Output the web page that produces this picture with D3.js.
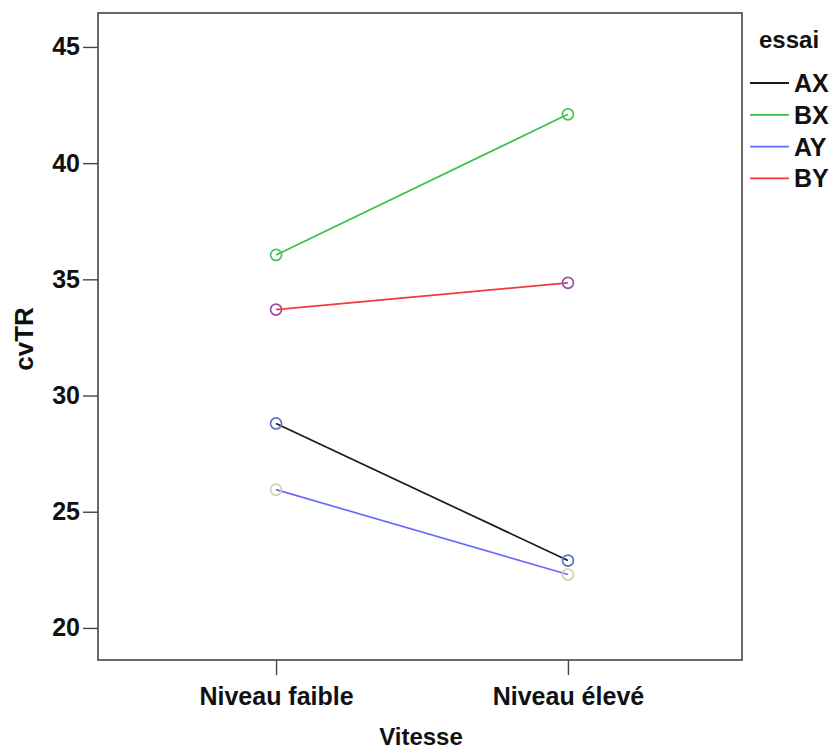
<!DOCTYPE html>
<html><head><meta charset="utf-8">
<script src="https://cdn.jsdelivr.net/npm/d3@7"></script>
<style>body{margin:0;background:#fff}svg{display:block}text{font-family:"Liberation Sans",Arial,sans-serif;font-weight:bold;fill:#111}</style>
</head><body>
<svg id="c" width="832" height="749"></svg>
<script>
const categories = ["Niveau faible", "Niveau élevé"];
const seriesNames = ["AX", "BX", "AY", "BY"];
const AX = [28.8, 22.9];
const BX = [36.05, 42.1];
const AY = [25.95, 22.3];
const BY = [33.7, 34.85];
const yTicks = [20, 25, 30, 35, 40, 45];
const lineColors = ["#1a1a1a", "#3cbf4a", "#6a6aff", "#f03c3c"];
const markerColors = ["#5b74c4", "#4cc25a", "#d4d0a4", "#9a4fa8"];

const series = [AX, BX, AY, BY];
const svg = d3.select("#c");
const L = 98, R = 742, T = 13, B = 660;
const x = d3.scalePoint().domain(categories).range([L, 746]).padding(0.61);
const y = d3.scaleLinear().domain([18.62, 46.46]).range([B, T]);

svg.append("rect").attr("x", L).attr("y", T).attr("width", R - L).attr("height", B - T)
  .attr("fill", "none").attr("stroke", "#444").attr("stroke-width", 1.6);

const ya = svg.append("g").attr("transform", `translate(${L},0)`)
  .call(d3.axisLeft(y).tickValues(yTicks).tickSize(15).tickPadding(3).tickFormat(d3.format("d")));
ya.select(".domain").remove();
ya.selectAll("line").attr("stroke", "#444").attr("stroke-width", 1.4);
ya.selectAll("text").style("font-size", "25px").attr("fill", "#111");

const xa = svg.append("g").attr("transform", `translate(0,${B})`)
  .call(d3.axisBottom(x).tickSize(15).tickPadding(12));
xa.select(".domain").remove();
xa.selectAll("line").attr("stroke", "#444").attr("stroke-width", 1.4);
xa.selectAll("text").style("font-size", "25px").attr("fill", "#111");

svg.append("text").attr("x", 421).attr("y", 745).attr("text-anchor", "middle")
  .style("font-size", "24px").text("Vitesse");
svg.append("text").attr("transform", "translate(33,339) rotate(-90)").attr("text-anchor", "middle")
  .style("font-size", "26px").text("cvTR");

const line = d3.line().x((d, i) => x(categories[i])).y(d => y(d));
series.forEach((s, k) => {
  svg.append("path").datum(s).attr("d", line).attr("fill", "none")
    .attr("stroke", lineColors[k]).attr("stroke-width", 1.7);
});
series.forEach((s, k) => {
  svg.selectAll(null).data(s).enter().append("circle")
    .attr("cx", (d, i) => x(categories[i])).attr("cy", d => y(d)).attr("r", 5.5)
    .attr("fill", "none").attr("stroke", markerColors[k]).attr("stroke-width", 1.7);
});

const lg = svg.append("g");
lg.append("text").attr("x", 759).attr("y", 48).style("font-size", "24px").text("essai");
seriesNames.forEach((n, k) => {
  const yy = 83 + k * 31.8;
  lg.append("line").attr("x1", 750).attr("x2", 789).attr("y1", yy).attr("y2", yy)
    .attr("stroke", lineColors[k]).attr("stroke-width", 1.8);
  lg.append("text").attr("x", 794).attr("y", yy + 9).style("font-size", "25px").text(n);
});
</script>
</body></html>
